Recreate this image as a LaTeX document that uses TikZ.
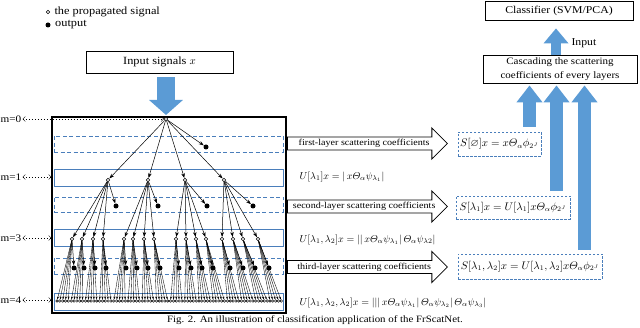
\documentclass[tikz,border=0pt]{standalone}
\usepackage{amsmath}
\usepackage{amssymb}
\usepackage{fontspec}
\setmainfont[FakeStretch=1.12]{Liberation Serif}
\usepackage{tikz}
\usetikzlibrary{arrows.meta,positioning,shapes.arrows}
\definecolor{bandblue}{RGB}{74,126,187}
\definecolor{arrowblue}{RGB}{91,155,213}

\begin{document}
\begin{tikzpicture}[
    x=1pt,y=-1pt,
    font=\fontsize{10}{12}\selectfont,
    prop/.style={circle,draw,fill=white,inner sep=0pt,minimum size=3.4pt,line width=0.6pt},
    leaf/.style={circle,draw,fill=white,inner sep=0pt,minimum size=2.6pt,line width=0.45pt},
    outp/.style={circle,fill=black,inner sep=0pt,minimum size=5pt},
    box/.style={draw,line width=0.8pt,align=center,inner sep=0pt},
    band/.style={draw=bandblue,line width=0.9pt,minimum width=229pt,inner sep=0pt},
    dband/.style={band,dash pattern=on 4pt off 2.5pt},
    sbox/.style={draw=bandblue,dash pattern=on 2.5pt off 1.5pt,line width=0.8pt,
                 inner sep=2pt,font=\fontsize{10.5}{12}\selectfont},
    coef/.style={single arrow,draw,fill=white,line width=0.8pt,single arrow head extend=9pt,
                 minimum height=160pt,inner xsep=1pt,inner ysep=2pt,anchor=tail,
                 font=\fontsize{9}{10}\selectfont},
    arr/.style={-{Stealth[length=5pt,width=3.5pt]},line width=0.5pt},
    farr/.style={-{Stealth[length=3pt,width=2pt]},line width=0.35pt},
    mlab/.style={font=\fontsize{10}{12}\selectfont,inner sep=1pt},
    mline/.style={{Straight Barb[length=2.5pt]}-{Straight Barb[length=2.5pt]},
                  line width=0.4pt,dash pattern=on 1.5pt off 1.5pt},
    fatup/.style={draw=arrowblue,line width=13pt,-{Triangle[length=17pt,width=25pt]}}
  ]
  \useasboundingbox (0,0) rectangle (640,328);

  % legend
  \node[prop] (lp) at (48,12) {};
  \node[right=1pt of lp,font=\fontsize{11}{12}\selectfont] (lpt) {the propagated signal};
  \node[outp] (lo) at (48,25) {};
  \node[right=1pt of lo,font=\fontsize{11}{12}\selectfont] (lot) {output};

  \node[box,minimum width=147pt,minimum height=22pt,font=\fontsize{11}{12}\selectfont]
        (inp) at (159.5,62) {Input signals $x$};

  % tree frame and layer bands
  \node[draw,line width=1.1pt,minimum width=234pt,minimum height=196pt,inner sep=0pt]
        (frame) at (169,215) {};
  \node[dband,minimum height=16pt] (r1) at (168.5,144) {};
  \node[band,minimum height=17pt] (b1) at (168.5,177.5) {};
  \node[dband,minimum height=15pt] (r2) at (168.5,204.5) {};
  \node[band,minimum height=17pt] (b3) at (168.5,237.5) {};
  \node[dband,minimum height=16pt] (r3) at (168.5,266) {};
  \node[band,minimum height=17pt] (b4) at (168.5,301.5) {};

  \node[mlab] (m0) at (11,119) {m=0};
  \node[mlab] (m1) at (11,177) {m=1};
  \node[mlab] (m3) at (11,238) {m=3};
  \node[mlab] (m4) at (11,300) {m=4};

  % scattering tree
  \node[prop] (a) at (166,119) {};
  \node[outp] (oa) at (206,147) {};
  \foreach \x [count=\i] in {108,148,185,224}
    \node[prop] (u\i) at (\x,180) {};
  \foreach \x [count=\i] in {116,158,207,253}
    \node[outp] (ou\i) at (\x,206) {};
  \foreach \x [count=\i] in {72,82,93,103,124,133,144,154,176,186,196,206,222,233,243,258}
    \node[prop] (v\i) at (\x,239) {};
  \foreach \x [count=\i] in {74,84,95,106,126,137,148,160,179,191,202,213,230,243,255,269}
    \node[outp] (ov\i) at (\x,268) {};
  \foreach \i in {1,...,80}
    \node[leaf] (w\i) at ({57+(\i-1)*2.84},301) {};

  \draw[mline] (m0.east) -- (a.west);
  \draw[mline] (m1.east) -- (m1.east -| frame.west);
  \draw[mline] (m3.east) -- (m3.east -| frame.west);
  \draw[mline] (m4.east) -- (m4.east -| frame.west);

  \draw[arr] (a) -- (oa);
  \foreach \i in {1,...,4} {
    \draw[arr] (a) -- (u\i);
    \draw[arr] (u\i) -- (ou\i);
    \foreach \j in {1,...,4} {
      \pgfmathtruncatemacro\k{(\i-1)*4+\j}
      \draw[arr] (u\i) -- (v\k);
    }
  }
  \foreach \i in {1,...,16} {
    \draw[arr] (v\i) -- (ov\i);
    \foreach \j in {1,...,5} {
      \pgfmathtruncatemacro\k{(\i-1)*5+\j}
      \draw[farr] (v\i) -- (w\k);
    }
  }

  % coefficients
  \node[coef] (ca) at (287,143.5) {first-layer scattering coefficients};
  \node[coef] (cb) at (287,206.5) {second-layer scattering coefficients};
  \node[coef] (cc) at (287,267) {third-layer scattering coefficients};

  \node[sbox,minimum width=83pt,minimum height=24pt] (sa) at (499.5,144)
        {$S[\varnothing]x = x\varTheta_\alpha\phi_{2^J}$};
  \node[sbox,minimum width=114pt,minimum height=23pt] (sb) at (513,207.5)
        {$S[\lambda_1]x = U[\lambda_1]x\varTheta_\alpha\phi_{2^J}$};
  \node[sbox,minimum width=144pt,minimum height=25pt] (sc) at (530,266.5)
        {$S[\lambda_1,\lambda_2]x = U[\lambda_1,\lambda_2]x\varTheta_\alpha\phi_{2^J}$};

  \node[anchor=west,font=\fontsize{10.3}{12}\selectfont] (ua) at (296,177)
        {$U[\lambda_1]x = |\,x\varTheta_\alpha\psi_{\lambda_1}|$};
  \node[anchor=west,font=\fontsize{10.3}{12}\selectfont] (ub) at (296,240)
        {$U[\lambda_1,\lambda_2]x = ||\,x\varTheta_\alpha\psi_{\lambda_1}|\,\varTheta_\alpha\psi_{\lambda2}|$};
  \node[anchor=west,font=\fontsize{10.3}{12}\selectfont] (uc) at (296,303)
        {$U[\lambda_1,\lambda_2,\lambda_2]x = |||\,x\varTheta_\alpha\psi_{\lambda_1}|\,\varTheta_\alpha\psi_{\lambda_2}|\,\varTheta_\alpha\psi_{\lambda_3}|$};

  % classifier side
  \node[box,minimum width=154pt,minimum height=28pt,font=\fontsize{9.8}{13.5}\selectfont]
        (casc) at (560,69) {Cascading the scattering\\coefficients of every layers};
  \node[box,minimum width=148pt,minimum height=19pt,font=\fontsize{10.5}{12}\selectfont]
        (clf) at (559,10.5) {Classifier (SVM/PCA)};
  \node[anchor=west,font=\fontsize{10.5}{12}\selectfont] (inl) at (568,43) {Input};

  \coordinate (ia) at ([xshift=-4pt]casc.north);
  \draw[fatup,line width=10pt,-{Triangle[length=15pt,width=24pt]},shorten >=8pt]
        (ia) -- (ia |- clf.south);
  \coordinate (da) at (inp.south -| a);
  \draw[fatup,line width=18pt,-{Triangle[length=15pt,width=33pt]},shorten <=4pt,shorten >=2pt]
        (da) -- (a.north);

  \coordinate (ta) at (529.5,127);
  \coordinate (tb) at (556.5,191);
  \coordinate (tc) at (584.5,250);
  \draw[fatup,shorten >=2pt] (ta) -- (ta |- casc.south);
  \draw[fatup,shorten >=2pt] (tb) -- (tb |- casc.south);
  \draw[fatup,shorten >=2pt] (tc) -- (tc |- casc.south);

  \node[font=\fontsize{9.7}{10}\selectfont] (cap) at (315,320.5)
        {Fig. 2. An illustration of classification application of the FrScatNet.};
\end{tikzpicture}
\end{document}
